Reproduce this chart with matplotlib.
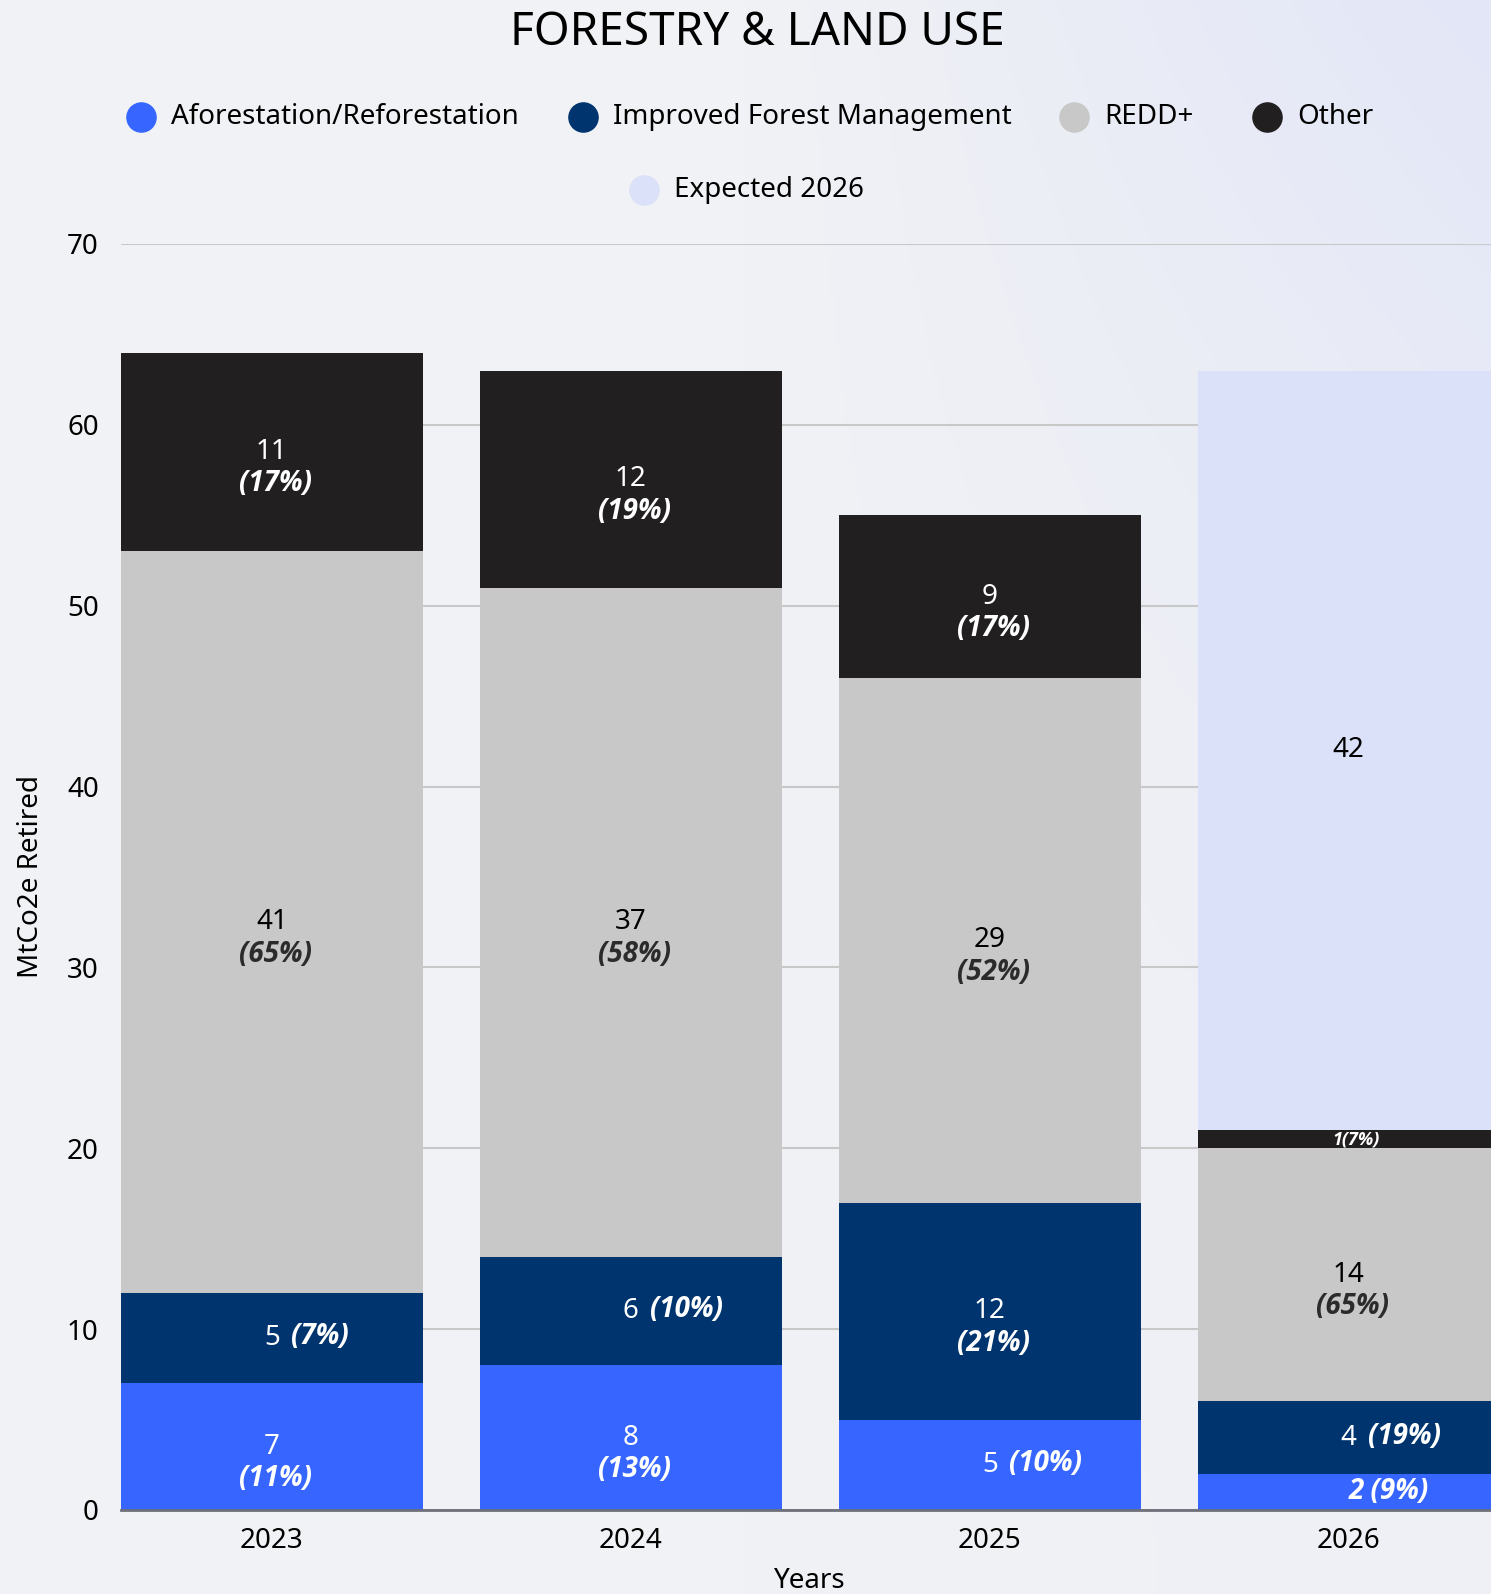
import numpy as np
import matplotlib
matplotlib.use("Agg")
import matplotlib.pyplot as plt
from matplotlib.lines import Line2D

plt.rcParams['font.family'] = ['Noto Sans', 'DejaVu Sans']

# data
years = ['2023', '2024', '2025', '2026']
series = ['Aforestation/Reforestation', 'Improved Forest Management', 'REDD+', 'Other']
afforest = [7, 8, 5, 2]
ifm = [5, 6, 12, 4]
redd = [41, 37, 29, 14]
other = [11, 12, 9, 1]
expected_2026 = 42
pct_afforest = ['11%', '13%', '10%', '9%']
pct_ifm = ['7%', '10%', '21%', '19%']
pct_redd = ['65%', '58%', '52%', '65%']
pct_other = ['17%', '19%', '17%', '7%']

colors = ['#3666FF', '#00346F', '#C8C8C8', '#221F20']
exp_color = '#DAE1F8'

# label layout per segment: 's' stacked, 'i' inline
layout_aff = ['s', 's', 'i', 'b']
layout_ifm = ['i', 'i', 's', 'i']
layout_redd = ['s', 's', 's', 's']
layout_other = ['s', 's', 's', 't']

PFONT = ['Open Sans', 'Lato', 'DejaVu Sans']

W, H = 1491, 1594
fig = plt.figure(figsize=(W / 100, H / 100), dpi=100)

# background gradient
bg = fig.add_axes([0, 0, 1, 1], zorder=-10)
xx, yy = np.meshgrid(np.linspace(0, 1, 300), np.linspace(0, 1, 300))
t = np.clip((xx - 0.5) / 0.5, 0, 1) * (0.15 + 0.85 * yy ** 2)
c0 = np.array([0xF1, 0xF2, 0xF5]) / 255
c1 = np.array([0xE2, 0xE6, 0xF7]) / 255
img = c0[None, None, :] * (1 - t[..., None]) + c1[None, None, :] * t[..., None]
bg.imshow(img, origin='lower', extent=[0, 1, 0, 1], aspect='auto')
bg.axis('off')

ax = fig.add_axes([121 / W, 84 / H, 1 - 121 / W, (1510 - 244) / H])
ax.set_facecolor('none')

x = np.arange(len(years))
bw = 0.84
segs = [afforest, ifm, redd, other]
pcts = [pct_afforest, pct_ifm, pct_redd, pct_other]
layouts = [layout_aff, layout_ifm, layout_redd, layout_other]
bottom = np.zeros(len(years))
for k, (vals, col) in enumerate(zip(segs, colors)):
    vals = np.array(vals, dtype=float)
    ax.bar(x, vals, bw, bottom=bottom, color=col, zorder=3, linewidth=0)
    tc = 'black' if k == 2 else 'white'
    pc = '#2b2b2b' if k == 2 else 'white'
    pkw = dict(color=pc, fontweight='bold', style='italic', family=PFONT, zorder=5)
    for i in range(len(years)):
        yc = bottom[i] + vals[i] / 2
        v = '%d' % vals[i]
        p = '(%s)' % pcts[k][i]
        mode = layouts[k][i]
        if mode == 's':
            ax.annotate(v, (x[i], yc), xytext=(0, 0), textcoords='offset points',
                        ha='center', va='center', fontsize=20, color=tc, zorder=5)
            ax.annotate(p, (x[i], yc), xytext=(3, -23), textcoords='offset points',
                        ha='center', va='center', fontsize=20, **pkw)
        elif mode == 'i':
            ax.annotate(v, (x[i], yc), xytext=(0, 0), textcoords='offset points',
                        ha='center', va='center', fontsize=20, color=tc, zorder=5)
            ax.annotate(p, (x[i], yc), xytext=(14, 1), textcoords='offset points',
                        ha='left', va='center', fontsize=20, **pkw)
        elif mode == 'b':
            ax.annotate('%s %s' % (v, p), (x[i], yc), xytext=(29, 0), textcoords='offset points',
                        ha='center', va='center', fontsize=20, **pkw)
        else:
            ax.annotate('%s%s' % (v, p), (x[i], yc), xytext=(5, 0), textcoords='offset points',
                        ha='center', va='center', fontsize=13, **pkw)
    bottom = bottom + vals

# expected 2026 on top of the last stack
ax.bar(x[-1], expected_2026, bw, bottom=bottom[-1], color=exp_color, zorder=3, linewidth=0)
ax.annotate('%d' % expected_2026, (x[-1], bottom[-1] + expected_2026 / 2),
            ha='center', va='center', fontsize=20, color='black', zorder=5)

ax.set_ylim(0, 70)
ax.set_xlim(-bw / 2, -bw / 2 + (W - 121) / 359)
ax.set_yticks(np.arange(0, 71, 10))
ax.set_xticks(x)
ax.set_xticklabels(years)
ax.tick_params(axis='both', length=0, labelsize=20, colors='black')
ax.tick_params(axis='y', pad=16)
ax.tick_params(axis='x', pad=12)
ax.yaxis.grid(True, color='#C8C8C8', linewidth=1.5, zorder=0)
for s in ['top', 'right', 'left']:
    ax.spines[s].set_visible(False)
ax.spines['bottom'].set_color('#6E7079')
ax.spines['bottom'].set_linewidth(2)
ax.spines['bottom'].set_zorder(4)

fig.text(31 / W, 1 - 876 / H, 'MtCo2e Retired', rotation=90, ha='center', va='center', fontsize=20)
fig.text(810 / W, 1 - 1581 / H, 'Years', ha='center', va='center', fontsize=20)
fig.text(757 / W, 1 - 33 / H, 'FORESTRY & LAND USE', ha='center', va='center', fontsize=33)

# legend drawn by hand
leg_items = [(series[0], colors[0], 141, 117), (series[1], colors[1], 583, 117),
             (series[2], colors[2], 1074, 117), (series[3], colors[3], 1267, 117),
             ('Expected 2026', exp_color, 644, 190)]
for lab, col, px, py in leg_items:
    fig.add_artist(Line2D([px / W], [1 - py / H], marker='o', markersize=21, color=col,
                          linestyle='none', transform=fig.transFigure))
    fig.text((px + 30) / W, 1 - py / H, lab, ha='left', va='center', fontsize=20)

fig.savefig('out.png', dpi=100)
